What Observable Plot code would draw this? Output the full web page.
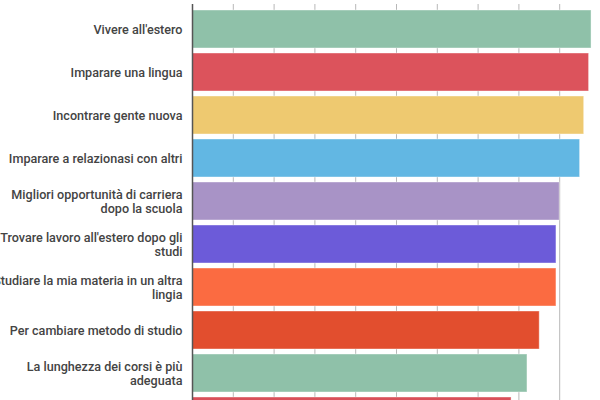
<!DOCTYPE html>
<html>
<head>
<meta charset="utf-8">
<script src="https://cdn.jsdelivr.net/npm/d3@7"></script>
<script src="https://cdn.jsdelivr.net/npm/@observablehq/plot@0.6"></script>
<style>
  html, body { margin: 0; padding: 0; background: #fff; }
  #wrap { width: 600px; height: 400px; overflow: hidden; }
</style>
</head>
<body>
<div id="wrap"></div>
<script>
const categories = [
  "Vivere all'estero",
  "Imparare una lingua",
  "Incontrare gente nuova",
  "Imparare a relazionasi con altri",
  "Migliori opportunità di carriera\ndopo la scuola",
  "Trovare lavoro all'estero dopo gli\nstudi",
  "Studiare la mia materia in un altra\nlingia",
  "Per cambiare metodo di studio",
  "La lunghezza dei corsi è più\nadeguata",
  "Altro"
];
const values = [97.8, 97.2, 96.0, 95.0, 90.0, 89.2, 89.2, 85.1, 82.1, 78.2];
const palette = ["#8fc1a9", "#dc535c", "#eec970", "#62b7e3", "#a893c6", "#6c5bd9", "#fb6b41", "#e24e2e", "#8fc1a9", "#d9505a"];
const gridTicks = [10, 20, 30, 40, 50, 60, 70, 80, 90];

const data = categories.map((c, i) => ({cat: c, value: values[i]}));

const chart = Plot.plot({
  width: 600,
  height: 450,
  marginTop: 4,
  marginBottom: 8,
  marginLeft: 192,
  marginRight: 0,
  style: {fontFamily: "Roboto, 'Liberation Sans', sans-serif", fontSize: "12.6px", color: "#444"},
  x: {domain: [0, 100], axis: null},
  y: {domain: categories, paddingInner: 0.11, paddingOuter: 0.1, axis: null},
  color: {domain: categories, range: palette},
  marks: [
    Plot.gridX(gridTicks, {stroke: "#b8b8b8", strokeOpacity: 1}),
    Plot.barX(data, {y: "cat", x: "value", fill: "cat", stroke: "white", strokeOpacity: 0.4, strokeWidth: 1}),
    Plot.axisY({label: null, tickSize: 0, tickPadding: 10, fontSize: 12.6, fontWeight: 500, fill: "#444", lineHeight: 1.12}),
    Plot.ruleX([0], {stroke: "#555", strokeWidth: 1.5})
  ]
});
document.getElementById("wrap").appendChild(chart);
</script>
</body>
</html>
